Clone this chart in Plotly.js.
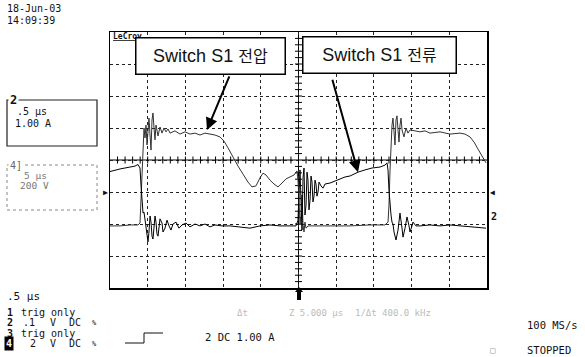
<!DOCTYPE html>
<html><head><meta charset="utf-8">
<script src="https://cdn.plot.ly/plotly-3.0.1.min.js"></script>
<style>html,body{margin:0;padding:0;background:#fff}#chart{width:585px;height:357px}</style>
</head><body><div id="chart"></div>
<script>
// Channel 2: switch current (screen divisions, 1.00 A/div), time in microseconds
const currentTime = [0,0.066,0.133,0.199,0.265,0.332,0.371,0.398,0.411,0.424,0.438,0.451,0.464,0.477,0.491,0.504,0.517,0.531,0.544,0.557,0.570,0.584,0.597,0.610,0.623,0.637,0.650,0.663,0.690,0.703,0.729,0.756,0.783,0.809,0.836,0.875,0.915,0.955,1.008,1.061,1.127,1.194,1.260,1.326,1.393,1.485,1.592,1.724,1.857,1.989,2.122,2.255,2.387,2.467,2.493,2.507,2.520,2.533,2.546,2.560,2.573,2.586,2.600,2.613,2.626,2.639,2.653,2.666,2.679,2.692,2.706,2.719,2.732,2.745,2.759,2.772,2.798,2.825,2.852,2.918,2.984,3.050,3.117,3.183,3.289,3.382,3.475,3.581,3.647,3.674,3.687,3.700,3.714,3.727,3.740,3.753,3.767,3.793,3.820,3.846,3.873,3.886,3.913,3.939,3.966,3.979,4.005,4.019,4.058,4.111,4.244,4.377,4.509,4.642,4.775,4.907,4.987];
const currentDiv = [-0.36,-0.31,-0.28,-0.25,-0.22,-0.19,-0.14,-0.25,-0.78,-1.25,-1.66,-1.63,-1.88,-2.13,-2.44,-2.56,-2.25,-1.75,-1.94,-2.38,-2.47,-2.13,-1.75,-1.94,-2.31,-2.38,-2.06,-1.84,-1.97,-2.25,-2.13,-1.88,-2.06,-2.19,-2.0,-1.94,-2.13,-2.03,-1.97,-2.09,-2.0,-2.06,-2.0,-2.09,-2.03,-2.06,-2.06,-2.09,-2.13,-2.06,-2.03,-2.06,-2.06,-2.06,-1.88,-0.94,-0.31,-1.25,-2.19,-0.56,-0.25,-1.72,-1.41,-0.38,-0.63,-1.56,-1.25,-0.5,-0.69,-1.31,-1.13,-0.63,-0.75,-1.13,-1.0,-0.69,-0.81,-0.88,-0.75,-0.72,-0.66,-0.59,-0.53,-0.5,-0.38,-0.31,-0.25,-0.22,-0.16,-0.09,-0.31,-0.94,-1.41,-1.72,-1.94,-2.0,-2.25,-2.5,-2.19,-1.66,-2.13,-2.41,-2.13,-1.78,-2.06,-2.25,-2.06,-1.94,-2.06,-2.06,-2.03,-2.06,-2.03,-2.06,-2.09,-2.13,-2.13];
// Channel 4: switch voltage (screen divisions, 200 V/div)
const voltageTime = [0,0.133,0.265,0.371,0.398,0.411,0.424,0.438,0.451,0.464,0.477,0.491,0.504,0.517,0.531,0.544,0.557,0.570,0.584,0.597,0.610,0.623,0.637,0.663,0.690,0.716,0.743,0.769,0.796,0.862,0.928,0.995,1.061,1.127,1.194,1.260,1.326,1.393,1.459,1.512,1.565,1.631,1.698,1.764,1.830,1.883,1.936,1.989,2.029,2.069,2.122,2.175,2.228,2.281,2.334,2.387,2.440,2.480,2.493,2.507,2.520,2.533,2.546,2.560,2.573,2.586,2.600,2.626,2.719,2.918,3.183,3.448,3.647,3.687,3.700,3.714,3.727,3.740,3.753,3.767,3.780,3.793,3.806,3.820,3.833,3.846,3.860,3.873,3.899,3.926,3.952,3.979,4.045,4.111,4.178,4.244,4.377,4.509,4.642,4.708,4.775,4.828,4.881,4.921,4.960,4.987];
const voltageDiv = [-2.06,-2.06,-2.03,-2.03,-1.97,-1.25,-0.31,0.63,1.0,0.69,1.09,0.47,1.0,1.31,0.78,0.31,1.25,1.47,1.0,0.63,1.09,0.94,0.75,1.03,0.84,1.0,0.88,0.97,0.84,0.91,0.81,0.88,0.81,0.84,0.78,0.84,0.81,0.78,0.72,0.59,0.38,0.09,-0.19,-0.44,-0.69,-0.84,-0.81,-0.56,-0.41,-0.47,-0.63,-0.75,-0.84,-0.72,-0.59,-0.53,-0.47,-0.34,-0.63,-1.25,-2.03,-1.72,-1.09,-2.03,-2.25,-1.94,-2.13,-2.06,-2.06,-2.06,-2.06,-2.03,-2.03,-1.94,-1.41,-0.31,0.63,1.09,1.31,0.88,0.47,1.25,1.38,0.94,0.56,1.09,1.31,0.94,0.72,1.0,0.84,0.94,0.91,0.88,0.91,0.84,0.88,0.81,0.84,0.81,0.72,0.56,0.34,0.16,0,-0.09];
const timePerDiv = 0.5, xRange = [0, 5], yRange = [-4, 4];

// graticule minor ticks along the centre lines (decoration)
const hx = [], hy = [], vx = [], vy = [];
for (let i = 1; i < 50; i++) { hx.push(i * 0.1); hy.push(0); }
for (let j = -19; j <= 19; j++) { if (j !== 0) { vx.push(2.5); vy.push(j * 0.2); } }

const PX = x => (x - 110) / 377;
const PY = y => (288 - y) / 256;
const MONO = 'DejaVu Sans Mono, monospace';
function txt(x, y, text, o) {
  o = o || {};
  return Object.assign({xref:'paper', yref:'paper', x:PX(x), y:PY(y), xanchor:'left', yanchor:'middle',
    showarrow:false, text:text, font:{family:MONO, size:o.size||11, color:o.color||'#111'}}, o.extra||{});
}

const traces = [
  {x:hx, y:hy, mode:'markers', marker:{symbol:'line-ns', size:5, line:{width:1, color:'#000'}}, hoverinfo:'skip'},
  {x:vx, y:vy, mode:'markers', marker:{symbol:'line-ew', size:5, line:{width:1, color:'#000'}}, hoverinfo:'skip'},
  {x:voltageTime, y:voltageDiv, mode:'lines', line:{color:'#333', width:1}, name:'Switch S1 전압'},
  {x:currentTime, y:currentDiv, mode:'lines', line:{color:'#000', width:1}, name:'Switch S1 전류'}
];

const annotations = [
  txt(5, 8.5, '18-Jun-03', {size:10}),
  txt(5, 20.5, '14:09:39', {size:10}),
  txt(111, 36, '<b><u>LeCroy</u></b>', {size:8}),
  {xref:'paper', yref:'paper', x:PX(210.5), y:PY(56), xanchor:'center', yanchor:'middle', showarrow:false,
   text:'Switch S1 <span style="font-size:16px">전압</span>', font:{family:'Liberation Sans, Arial, Noto Sans CJK KR', size:18, color:'#111'},
   bgcolor:'#fff', bordercolor:'#000', borderwidth:1.5, borderpad:3, width:142, height:29},
  {xref:'paper', yref:'paper', x:PX(379.5), y:PY(55), xanchor:'center', yanchor:'middle', showarrow:false,
   text:'Switch S1 <span style="font-size:16px">전류</span>', font:{family:'Liberation Sans, Arial, Noto Sans CJK KR', size:18, color:'#111'},
   bgcolor:'#fff', bordercolor:'#000', borderwidth:1.5, borderpad:3, width:146, height:29},
  {xref:'x', yref:'y', x:1.286, y:0.94, ax:23, ay:-55, showarrow:true, arrowhead:2, arrowsize:1.2, arrowwidth:2, arrowcolor:'#000', text:''},
  {xref:'x', yref:'y', x:3.289, y:-0.38, ax:-26, ay:-94, showarrow:true, arrowhead:2, arrowsize:1.2, arrowwidth:2, arrowcolor:'#000', text:''},
  txt(8, 100, '<b>2</b>', {size:12, extra:{bgcolor:'#fff'}}),
  txt(15, 111, '.5 µs', {size:10}),
  txt(13, 123, '1.00 A', {size:10}),
  txt(8, 165, '4]', {color:'#666', size:10, extra:{bgcolor:'#fff'}}),
  txt(22, 175, '5 µs', {color:'#777', size:9.5}),
  txt(18, 185, '200 V', {color:'#777', size:9.5}),
  txt(101, 192, '▶', {size:8}),
  txt(488, 192, '◀', {size:8}),
  txt(489, 216, '<b>2</b>', {size:10}),
  txt(5, 296, '.5 µs'),
  txt(5, 312, '<b>1</b>', {size:10}), txt(19, 312, 'trig only', {size:10}),
  txt(5, 322.5, '<b>2</b>', {size:10}), txt(21, 322.5, '.1', {size:10}), txt(48, 322.5, 'V', {size:10}), txt(67, 322.5, 'DC', {size:10}), txt(90, 322.5, '%', {size:7}),
  txt(5, 333, '<b>3</b>', {size:10}), txt(19, 333, 'trig only', {size:10}),
  txt(4, 343.5, '<b>4</b>', {size:10, color:'#fff', extra:{bgcolor:'#000'}}), txt(28, 343.5, '2', {size:10}), txt(48, 343.5, 'V', {size:10}), txt(67, 343.5, 'DC', {size:10}), txt(90, 343.5, '%', {size:7}),
  txt(203, 337, '2 DC 1.00 A', {size:10.5}),
  txt(235, 313, 'Δt', {size:9, color:'#bbb'}),
  txt(287, 313, 'Z 5.000 µs', {size:9, color:'#bbb'}),
  txt(353, 313, '1/Δt 400.0 kHz', {size:9, color:'#bbb'}),
  txt(525, 325, '100 MS/s', {size:10.5}),
  txt(488, 350, '▢', {size:9, color:'#999'}),
  txt(525, 350, 'STOPPED', {size:10.5})
];

const shapes = [
  {type:'line', xref:'x', yref:'y', x0:0, x1:5, y0:0, y1:0, line:{color:'#000', width:1}, layer:'below'},
  {type:'line', xref:'x', yref:'y', x0:2.5, x1:2.5, y0:-4, y1:4, line:{color:'#000', width:1}, layer:'below'},
  {type:'rect', xref:'paper', yref:'paper', x0:PX(7), x1:PX(97), y0:PY(146), y1:PY(100), line:{color:'#222', width:1.2}},
  {type:'rect', xref:'paper', yref:'paper', x0:PX(7), x1:PX(97), y0:PY(210), y1:PY(165), line:{color:'#888', width:1, dash:'dot'}},
  {type:'rect', xref:'paper', yref:'paper', x0:PX(297), x1:PX(301), y0:PY(300), y1:PY(291), fillcolor:'#000', line:{width:0}},
  {type:'path', xref:'paper', yref:'paper', path:`M ${PX(295)} ${PY(292)} L ${PX(299)} ${PY(287)} L ${PX(303)} ${PY(292)} Z`, fillcolor:'#000', line:{width:0}},
  {type:'path', xref:'paper', yref:'paper', path:`M ${PX(125)} ${PY(343)} L ${PX(144)} ${PY(343)} L ${PX(144)} ${PY(333)} L ${PX(163)} ${PY(333)}`, line:{color:'#111', width:1}}
];

const axisBase = {showgrid:true, gridcolor:'#222', griddash:'dot', gridwidth:1, showline:true, mirror:true,
  linecolor:'#000', linewidth:1.5, showticklabels:false, ticks:'', zeroline:false, fixedrange:true};

const layout = {
  width:585, height:357, margin:{l:110, r:98, t:32, b:69, pad:0},
  paper_bgcolor:'#fff', plot_bgcolor:'#fff', showlegend:false,
  xaxis:Object.assign({range:xRange, dtick:timePerDiv, tick0:0}, axisBase),
  yaxis:Object.assign({range:yRange, dtick:1, tick0:0}, axisBase),
  annotations:annotations, shapes:shapes
};

Plotly.newPlot('chart', traces, layout, {displayModeBar:false, staticPlot:true});
</script></body></html>
